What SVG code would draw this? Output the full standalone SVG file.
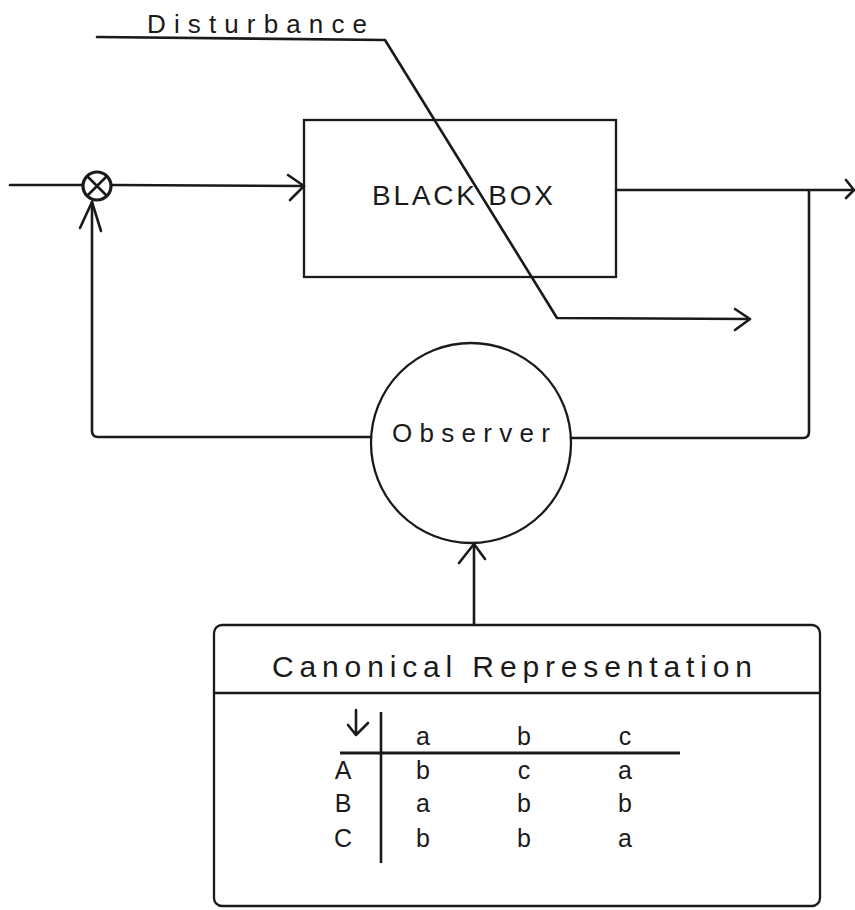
<svg xmlns="http://www.w3.org/2000/svg" width="855" height="910" viewBox="0 0 855 910">
<style>
.ln{fill:none;stroke:#1a1a1a;stroke-width:2.6;stroke-linecap:round;stroke-linejoin:round}
.box{fill:none;stroke:#1a1a1a;stroke-width:2.3}
.t{font-family:"Liberation Sans",Arial,sans-serif;fill:#1a1a1a}
.cell{font-family:"Liberation Sans",Arial,sans-serif;fill:#1a1a1a;font-size:25px;text-anchor:middle}
</style>
<rect width="855" height="910" fill="#ffffff"/>
<g id="connectors">
  <path class="ln" d="M10,185 L82,185"/>
  <path class="ln" d="M112,185 L304,186"/>
  <path class="ln" d="M288,175 L304,186 L290,200"/>
  <path class="ln" d="M616,190 L854,190"/>
  <path class="ln" d="M846,180 L854,190 L846,198"/>
  <path class="ln" d="M809,191 L809,432 Q809,438 803,438 L571,438"/>
  <path class="ln" d="M371,437 L98,437 Q92,437 92,431 L92,202"/>
  <path class="ln" d="M80,228 L92,202 L101,231"/>
  <path class="ln" d="M97,37 L385,40 L557,318 L750,319"/>
  <path class="ln" d="M735,309 L750,319 L735,330"/>
  <path class="ln" d="M474,625 L474,544"/>
  <path class="ln" d="M459,563 L474,544 L485,559"/>
</g>
<g id="disturbance-label">
  <text class="t" x="147" y="33" font-size="26" textLength="220" lengthAdjust="spacing">Disturbance</text>
</g>
<g id="summing-junction">
  <circle cx="97" cy="186" r="14" fill="#ffffff" stroke="#1a1a1a" stroke-width="3.2"/>
  <path d="M87,176 L107,196 M107,176 L87,196" stroke="#1a1a1a" stroke-width="2.6" fill="none"/>
</g>
<g id="black-box">
  <rect class="box" x="304" y="120" width="312" height="157"/>
  <text class="t" x="372" y="205" font-size="28" textLength="181" lengthAdjust="spacing">BLACK BOX</text>
</g>
<g id="observer">
  <circle cx="471" cy="443" r="100" fill="none" stroke="#1a1a1a" stroke-width="2.3"/>
  <text class="t" x="392" y="442" font-size="26" textLength="158" lengthAdjust="spacing">Observer</text>
</g>
<g id="canonical-representation">
  <rect class="box" x="214" y="625" width="606" height="281" rx="8"/>
  <line x1="214" y1="693" x2="820" y2="693" stroke="#1a1a1a" stroke-width="2.6"/>
  <text class="t" x="272" y="677" font-size="30" textLength="480" lengthAdjust="spacing">Canonical Representation</text>
  <path class="ln" d="M356,710 L356,735 M348,725 L356,735 L368,723"/>
  <line x1="381" y1="712" x2="381" y2="863" stroke="#1a1a1a" stroke-width="2.6"/>
  <line x1="340" y1="753" x2="680" y2="753" stroke="#1a1a1a" stroke-width="2.8"/>
  <text class="cell" x="423" y="745">a</text>
  <text class="cell" x="524" y="745">b</text>
  <text class="cell" x="625" y="745">c</text>
  <text class="cell" x="343" y="779">A</text>
  <text class="cell" x="423" y="779">b</text>
  <text class="cell" x="524" y="779">c</text>
  <text class="cell" x="625" y="779">a</text>
  <text class="cell" x="343" y="812">B</text>
  <text class="cell" x="423" y="812">a</text>
  <text class="cell" x="524" y="812">b</text>
  <text class="cell" x="625" y="812">b</text>
  <text class="cell" x="343" y="847">C</text>
  <text class="cell" x="423" y="847">b</text>
  <text class="cell" x="524" y="847">b</text>
  <text class="cell" x="625" y="847">a</text>
</g>
</svg>
